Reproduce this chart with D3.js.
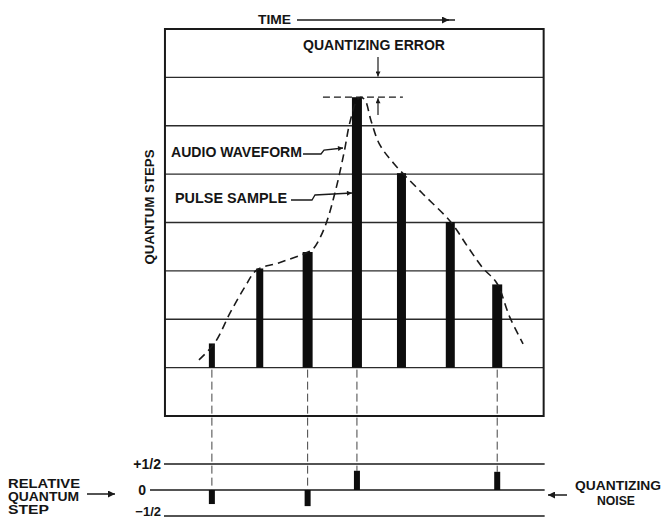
<!DOCTYPE html>
<html>
<head>
<meta charset="utf-8">
<script src="https://cdn.jsdelivr.net/npm/d3@7"></script>
<style>
  body { margin: 0; background: #fff; }
  svg { display: block; }
  .lbl { font-family: "Liberation Sans", Arial, sans-serif; font-weight: bold; fill: #151515; }
</style>
</head>
<body>
<div id="chart"></div>
<script>
// sample instants (in sample periods) and their quantized heights (in quantum steps)
var sampleTimes = [0, 1, 2, 3.03, 3.96, 4.98, 5.96];
var sampleLevels = [1.5, 3.05, 3.39, 6.59, 5.02, 4.01, 2.72];

// relative quantum step error at each sample (0 = no noise pulse drawn)
var noiseValues = [-0.27, 0, -0.31, 0.37, 0, 0, 0.35];

// audio waveform: time, level
var waveT = [-0.27, 0.06, 0.38, 0.69, 0.94, 1.38, 2.01, 2.13, 2.36, 2.57, 2.76, 2.88, 3.03, 3.11, 3.2, 3.32, 3.5, 3.8, 4.39, 4.99, 5.35, 5.66, 5.95, 6.22, 6.5];
var waveL = [1.16, 1.51, 2.13, 2.67, 3.02, 3.16, 3.39, 3.47, 3.91, 4.61, 5.44, 6.06, 6.53, 6.59, 6.53, 6.12, 5.62, 5.22, 4.61, 4.01, 3.49, 3.06, 2.75, 2.05, 1.49];

// quantum step grid
var stepLevels = [1, 2, 3, 4, 5, 6, 7];
var noiseTicks = [0.5, 0, -0.5];
var noiseTickLabels = ['+1/2', '0', '\u22121/2'];

var W = 662, H = 519;

var svg = d3.select('#chart').append('svg')
    .attr('width', W)
    .attr('height', H);

// x: time in sample periods, y: quantum steps
var x = d3.scaleLinear().domain([-1, 7]).range([164, 547]);
var y = d3.scaleLinear().domain([0, 8]).range([416, 29]);
var yn = d3.scaleLinear().domain([-0.5, 0.5]).range([516, 464]);

var tLeft = -0.98, tRight = 6.93;
var ink = '#1a1a1a';

// arrow heads
var defs = svg.append('defs');
function marker(id, len, wid) {
    defs.append('marker')
        .attr('id', id)
        .attr('viewBox', '0 0 10 10')
        .attr('refX', 10).attr('refY', 5)
        .attr('markerUnits', 'userSpaceOnUse')
        .attr('markerWidth', len).attr('markerHeight', wid)
        .attr('orient', 'auto')
        .append('path')
        .attr('d', 'M0,0L10,5L0,10Z')
        .attr('fill', ink);
}
marker('ah', 11, 7);
marker('ahs', 8, 5);

// horizontal quantum step lines
svg.append('g').selectAll('line')
    .data(stepLevels)
    .enter().append('line')
    .attr('x1', x(tLeft)).attr('x2', x(tRight))
    .attr('y1', function(d) { return y(d); })
    .attr('y2', function(d) { return y(d); })
    .attr('stroke', '#2b2b2b')
    .attr('stroke-width', 1.3);

// frame
svg.append('rect')
    .attr('x', x(tLeft)).attr('y', y(8))
    .attr('width', x(tRight) - x(tLeft))
    .attr('height', y(0) - y(8))
    .attr('fill', 'none')
    .attr('stroke', ink)
    .attr('stroke-width', 2);

// pulse samples
var barW = [6, 7, 10, 10, 9, 9, 10];
svg.append('g').selectAll('rect')
    .data(sampleLevels)
    .enter().append('rect')
    .attr('x', function(d, i) { return x(sampleTimes[i]) - barW[i] / 2; })
    .attr('y', function(d) { return y(d); })
    .attr('width', function(d, i) { return barW[i]; })
    .attr('height', function(d) { return y(1) - y(d); })
    .attr('fill', '#0d0d0d');

// audio waveform
var wave = waveT.map(function(t, i) { return [t, waveL[i]]; });
var line = d3.line()
    .x(function(d) { return x(d[0]); })
    .y(function(d) { return y(d[1]); })
    .curve(d3.curveCatmullRom.alpha(0.5));
svg.append('path')
    .attr('d', line(wave))
    .attr('fill', 'none')
    .attr('stroke', ink)
    .attr('stroke-width', 1.6)
    .attr('stroke-dasharray', '8,5');

// quantizing error markers
var peak = sampleLevels[3];
svg.append('line')
    .attr('x1', x(2.32)).attr('x2', x(3.99))
    .attr('y1', y(peak)).attr('y2', y(peak))
    .attr('stroke', ink).attr('stroke-width', 1.2)
    .attr('stroke-dasharray', '7,4');
svg.append('line')
    .attr('x1', x(3.47)).attr('x2', x(3.47))
    .attr('y1', 57).attr('y2', y(7) - 1)
    .attr('stroke', ink).attr('stroke-width', 1.2)
    .attr('marker-end', 'url(#ahs)');
svg.append('line')
    .attr('x1', x(3.47)).attr('x2', x(3.47))
    .attr('y1', 115).attr('y2', y(peak) + 1)
    .attr('stroke', ink).attr('stroke-width', 1.2)
    .attr('marker-end', 'url(#ahs)');

// leaders for waveform and pulse labels
var leader = d3.line();
svg.append('path')
    .attr('d', leader([[303, 154], [321, 154], [324, 150], [343, 148]]))
    .attr('fill', 'none').attr('stroke', ink).attr('stroke-width', 1.3)
    .attr('marker-end', 'url(#ahs)');
svg.append('path')
    .attr('d', leader([[291, 200], [312, 200], [315, 195], [x(sampleTimes[3]) - barW[3] / 2, 193]]))
    .attr('fill', 'none').attr('stroke', ink).attr('stroke-width', 1.3)
    .attr('marker-end', 'url(#ahs)');

// relative quantum step lines
svg.append('g').selectAll('line')
    .data(noiseTicks)
    .enter().append('line')
    .attr('x1', function(d) { return d == 0 ? 150 : 164; })
    .attr('x2', x(tRight) + 1)
    .attr('y1', function(d) { return yn(d); })
    .attr('y2', function(d) { return yn(d); })
    .attr('stroke', ink)
    .attr('stroke-width', 1.5);

svg.append('g').selectAll('text')
    .data(noiseTicks)
    .enter().append('text')
    .attr('class', 'lbl')
    .attr('x', function(d) { return d == 0 ? 146 : 161; })
    .attr('y', function(d) { return d < 0 ? H - 3.5 : yn(d) + 5; })
    .attr('text-anchor', 'end')
    .style('font-size', function(d) { return d < 0 ? '13px' : '14px'; })
    .text(function(d, i) { return noiseTickLabels[i]; });

// drop lines from samples to the noise pulses
var noisy = noiseValues.map(function(v, i) { return { i: i, v: v }; })
    .filter(function(d) { return d.v != 0; });

svg.append('g').selectAll('line')
    .data(noisy)
    .enter().append('line')
    .attr('x1', function(d) { return x(sampleTimes[d.i]); })
    .attr('x2', function(d) { return x(sampleTimes[d.i]); })
    .attr('y1', y(1) + 2)
    .attr('y2', function(d) { return d.v > 0 ? yn(d.v) : yn(0); })
    .attr('stroke', '#444')
    .attr('stroke-width', 1)
    .attr('stroke-dasharray', '8,4');

// quantizing noise pulses
svg.append('g').selectAll('rect')
    .data(noisy)
    .enter().append('rect')
    .attr('x', function(d) { return x(sampleTimes[d.i]) - 3; })
    .attr('y', function(d) { return Math.min(yn(d.v), yn(0)); })
    .attr('width', 6)
    .attr('height', function(d) { return Math.abs(yn(d.v) - yn(0)); })
    .attr('fill', '#0d0d0d');

// labels
function label(txt, lx, ly, size, len) {
    return svg.append('text')
        .attr('class', 'lbl')
        .attr('x', lx).attr('y', ly)
        .attr('textLength', len)
        .attr('lengthAdjust', 'spacingAndGlyphs')
        .style('font-size', size + 'px')
        .text(txt);
}

label('TIME', 258, 24, 13, 33);
svg.append('line')
    .attr('x1', 297).attr('x2', 449)
    .attr('y1', 20).attr('y2', 20)
    .attr('stroke', ink).attr('stroke-width', 1.5)
    .attr('marker-end', 'url(#ah)');
svg.append('line')
    .attr('x1', 445).attr('x2', 455)
    .attr('y1', 20).attr('y2', 20)
    .attr('stroke', ink).attr('stroke-width', 1.5);

label('QUANTIZING ERROR', 303, 50, 14, 142);
label('AUDIO WAVEFORM', 171, 157, 14, 131);
label('PULSE SAMPLE', 175, 203, 14, 112);

svg.append('text')
    .attr('class', 'lbl')
    .attr('transform', 'translate(154,207) rotate(-90)')
    .attr('text-anchor', 'middle')
    .attr('textLength', 115)
    .attr('lengthAdjust', 'spacingAndGlyphs')
    .style('font-size', '13px')
    .text('QUANTUM STEPS');

label('RELATIVE', 8, 488, 12, 72);
label('QUANTUM', 8, 501, 12, 71);
label('STEP', 8, 514, 12, 41);
svg.append('line')
    .attr('x1', 87).attr('x2', 115)
    .attr('y1', 494).attr('y2', 494)
    .attr('stroke', ink).attr('stroke-width', 1.5)
    .attr('marker-end', 'url(#ah)');

label('QUANTIZING', 575, 490, 12, 86);
label('NOISE', 597, 505, 12, 38);
svg.append('line')
    .attr('x1', 567).attr('x2', 548)
    .attr('y1', 495).attr('y2', 495)
    .attr('stroke', ink).attr('stroke-width', 1.5)
    .attr('marker-end', 'url(#ah)');
</script>
</body>
</html>
